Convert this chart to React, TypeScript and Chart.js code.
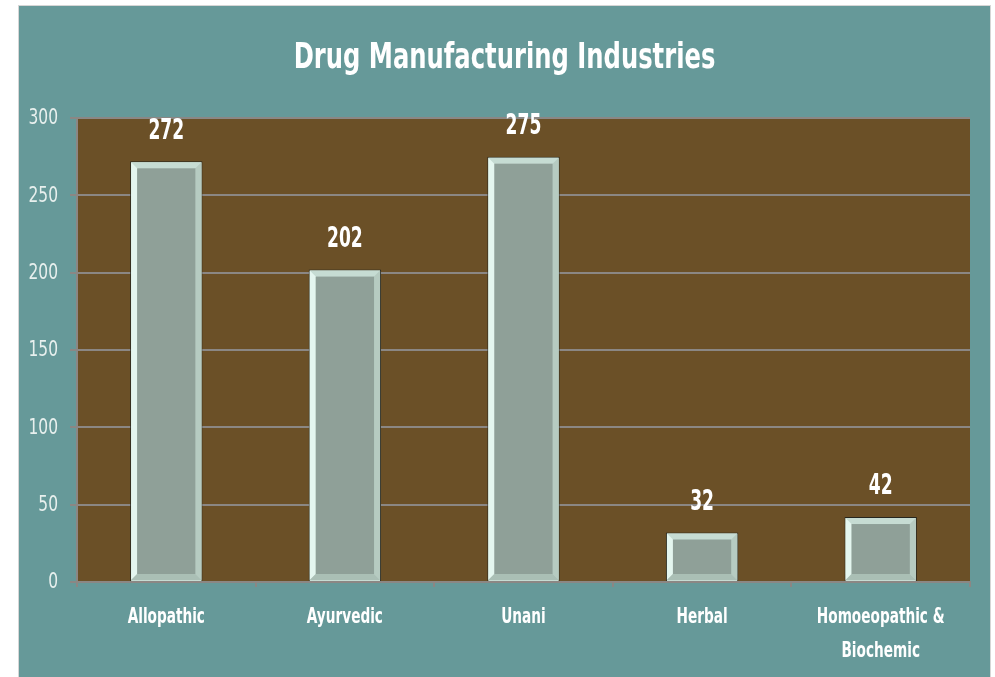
import React, { useEffect, useRef } from "react";
import { Chart, registerables } from "chart.js";

Chart.register(...registerables);

const categories: string[][] = [
  ["Allopathic"],
  ["Ayurvedic"],
  ["Unani"],
  ["Herbal"],
  ["Homoeopathic &", "Biochemic"],
];
const industryCounts = [272, 202, 275, 32, 42];
const yTickValues = [0, 50, 100, 150, 200, 250, 300];
const chartTitle = "Drug Manufacturing Industries";

const FONT = "'Liberation Sans Narrow', 'DejaVu Sans Condensed', 'Open Sans', sans-serif";
const GRID = "#8b8784";

function drawNarrow(ctx: any, text: string, x: number, y: number, sx: number, font: string, color: string, align: string) {
  ctx.save();
  ctx.translate(x, y);
  ctx.scale(sx, 1);
  ctx.font = font;
  ctx.fillStyle = color;
  ctx.textAlign = align;
  ctx.textBaseline = "middle";
  ctx.fillText(text, 0, 0);
  ctx.restore();
}

const plotBgPlugin = {
  id: "plotBg",
  beforeDraw(chart: any) {
    const { ctx, chartArea } = chart;
    ctx.save();
    ctx.fillStyle = "#6b5027";
    ctx.fillRect(chartArea.left, chartArea.top, chartArea.right - chartArea.left, chartArea.bottom - chartArea.top);
    ctx.restore();
  },
};

const textPlugin = {
  id: "texts",
  afterDraw(chart: any) {
    const { ctx, chartArea, width } = chart;
    drawNarrow(ctx, chartTitle, width / 2, 53, 0.77, `bold 35px ${FONT}`, "#ffffff", "center");
    const xs = chart.scales.x;
    categories.forEach((lines, i) => {
      const px = xs.getPixelForTick(i);
      lines.forEach((ln, j) => {
        drawNarrow(ctx, ln, px, chartArea.bottom + 35 + j * 34, 0.69, `bold 22px ${FONT}`, "#ffffff", "center");
      });
    });
    const ys = chart.scales.y;
    yTickValues.forEach((v) => {
      drawNarrow(ctx, String(v), chartArea.left - 19, ys.getPixelForValue(v) + 1, 0.82, `21px ${FONT}`, "#e8f0ee", "right");
    });
  },
};

const bevelPlugin = {
  id: "bevel",
  afterDatasetsDraw(chart: any) {
    const { ctx } = chart;
    const meta = chart.getDatasetMeta(0);
    const data = chart.data.datasets[0].data as number[];
    meta.data.forEach((el: any, i: number) => {
      const { x, y, base, width } = el.getProps(["x", "y", "base", "width"], true);
      const L = x - width / 2 + 1;
      const R = x + width / 2 - 1;
      const T = y + 1;
      const B = base - 1;
      const b = 6;
      ctx.save();
      const poly = (pts: number[][], color: string) => {
        ctx.beginPath();
        ctx.moveTo(pts[0][0], pts[0][1]);
        for (let k = 1; k < pts.length; k++) ctx.lineTo(pts[k][0], pts[k][1]);
        ctx.closePath();
        ctx.fillStyle = color;
        ctx.fill();
      };
      poly([[L, T], [R, T], [R - b, T + b], [L + b, T + b]], "#c6dcd3");
      poly([[L, T], [L + b, T + b], [L + b, B - b], [L, B]], "#e4f6ef");
      poly([[R, T], [R - b, T + b], [R - b, B - b], [R, B]], "#b6cbc1");
      poly([[L, B], [L + b, B - b], [R - b, B - b], [R, B]], "#aabfb5");
      ctx.fillStyle = "#8fa098";
      ctx.fillRect(L + b, T + b, R - L - 2 * b, B - T - 2 * b);
      ctx.restore();
      drawNarrow(ctx, String(data[i]), x, y - 30, 0.68, `bold 28px ${FONT}`, "#ffffff", "center");
    });
  },
};

export default function App() {
  const ref = useRef<HTMLCanvasElement | null>(null);
  useEffect(() => {
    if (!ref.current) return;
    const chart = new Chart(ref.current, {
      type: "bar",
      data: {
        labels: categories,
        datasets: [
          {
            data: industryCounts,
            backgroundColor: "#c6dcd3",
            borderColor: "#26261e",
            borderWidth: 1,
            borderSkipped: "bottom",
            barPercentage: 0.405,
            categoryPercentage: 1,
          },
        ],
      },
      options: {
        responsive: false,
        animation: false,
        layout: { padding: { left: 0, right: 20, top: 112, bottom: 0 } },
        plugins: {
          legend: { display: false },
          tooltip: { enabled: false },
          title: { display: false },
        },
        scales: {
          x: {
            grid: { drawOnChartArea: false, color: GRID, lineWidth: 2, tickLength: 5, offset: true },
            border: { display: true, color: GRID, width: 2 },
            ticks: {
              color: "rgba(0,0,0,0)",
              font: { family: FONT, size: 20, weight: "bold" },
              maxRotation: 0,
              autoSkip: false,
            },
            afterFit(scale: any) {
              scale.height = 96;
            },
          },
          y: {
            min: 0,
            max: 300,
            afterBuildTicks(scale: any) {
              scale.ticks = yTickValues.map((v) => ({ value: v }));
            },
            grid: { color: GRID, lineWidth: 2, tickLength: 7 },
            border: { display: true, color: GRID, width: 2 },
            ticks: {
              color: "rgba(0,0,0,0)",
              font: { family: FONT, size: 19 },
              padding: 8,
            },
            afterFit(scale: any) {
              scale.width = 58;
            },
          },
        },
      },
      plugins: [plotBgPlugin, bevelPlugin, textPlugin],
    } as any);
    return () => chart.destroy();
  }, []);
  return (
    <div
      style={{
        position: "absolute",
        left: 18,
        top: 5,
        width: 971,
        height: 672,
        background: "#669999",
        borderTop: "1px solid #d6d6d6",
        borderLeft: "1px solid #d6d6d6",
        borderRight: "1px solid #d6d6d6",
      }}
    >
      <canvas ref={ref} width={971} height={672} style={{ display: "block" }} />
    </div>
  );
}
